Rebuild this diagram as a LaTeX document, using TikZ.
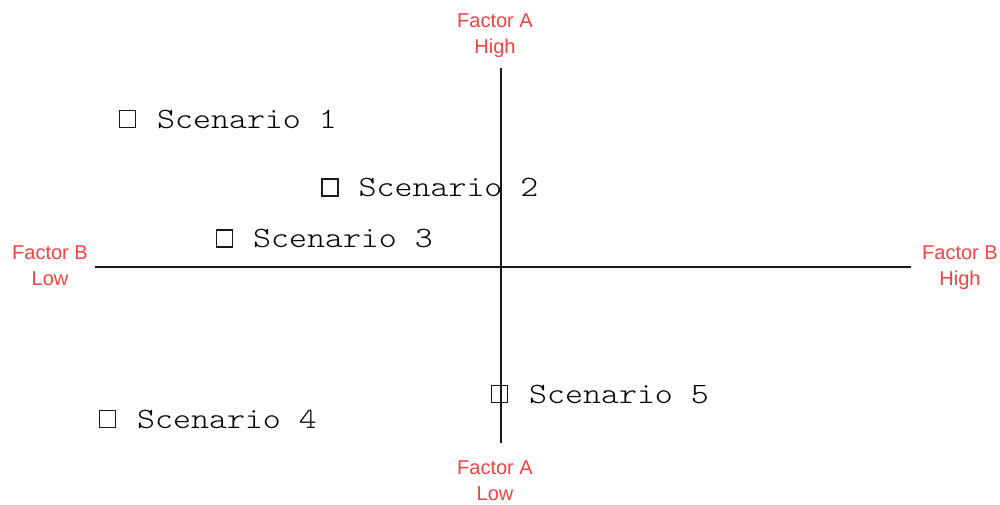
\documentclass[tikz,border=0pt]{standalone}
\usepackage{fontspec}
\setmainfont{Liberation Sans}
\newfontfamily\scenfont[FakeStretch=1.16]{lmmonolt10-regular.otf}
\definecolor{lblred}{RGB}{245,65,65}
\definecolor{axisgray}{RGB}{25,25,25}
\tikzset{
  axisline/.style={draw=axisgray, line width=1.8pt},
  lbl/.style={text=lblred, font=\fontsize{20}{26}\selectfont, align=center, inner sep=0pt, anchor=base},
  scen/.style={font=\scenfont\fontsize{29.5}{30}\selectfont, text=black, inner sep=0pt, anchor=base west},
  sqbox/.style={draw=black!90, line width=1.4pt, minimum width=16pt, minimum height=17pt, inner sep=0pt},
}
\begin{document}
\begin{tikzpicture}[x=1pt,y=-1pt]
\useasboundingbox (0,0) rectangle (1000,504);
% axes endpoints
\coordinate (atop) at (501,68);
\coordinate (abot) at (501,443);
\coordinate (bleft) at (95,267);
\coordinate (bright) at (911,267);
\draw[axisline] (atop) -- (abot);
\draw[axisline] (bleft) -- (bright);
% axis labels (base anchor = last line's baseline)
\node[lbl] (ahigh) at (495,53) {Factor A\\High};
\node[lbl] (alow) at (495,500) {Factor A\\Low};
\node[lbl] (blow) at (50,285.5) {Factor B\\Low};
\node[lbl] (bhigh) at (960,285.5) {Factor B\\High};
% scenarios
\node[sqbox] (q1) at (127.5,119) {};
\node[scen] (s1) at (157,128) {Scenario 1};
\node[sqbox] (q2) at (330,187.5) {};
\node[scen] (s2) at (358.5,196.5) {Scenario 2};
\node[sqbox] (q3) at (224.5,238.5) {};
\node[scen] (s3) at (253,247) {Scenario 3};
\node[sqbox] (q4) at (107.5,419) {};
\node[scen] (s4) at (137,428) {Scenario 4};
\node[sqbox] (q5) at (499.5,394) {};
\node[scen] (s5) at (529,403) {Scenario 5};
\end{tikzpicture}
\end{document}
